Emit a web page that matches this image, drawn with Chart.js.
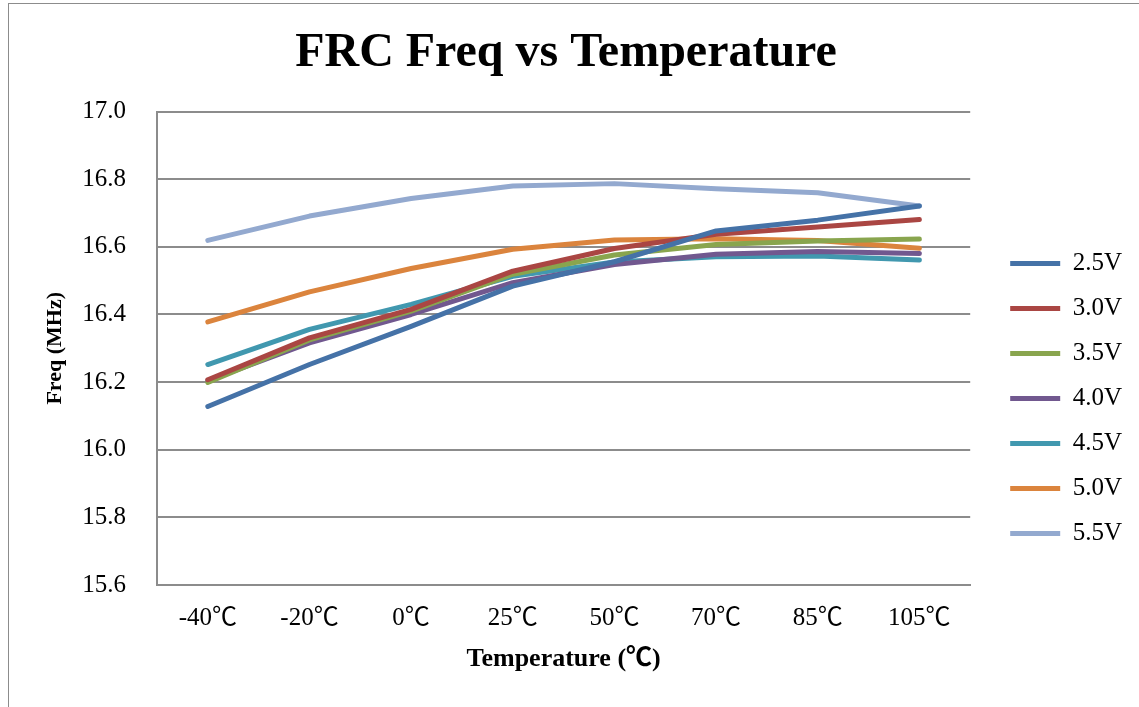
<!DOCTYPE html>
<html>
<head>
<meta charset="utf-8">
<script src="https://cdn.jsdelivr.net/npm/chart.js@4"></script>
<style>
  body { margin: 0; background: #fff; }
  #wrap { position: relative; width: 1139px; height: 707px; }
  #frame { position: absolute; left: 8px; top: 3px; width: 1200px; height: 800px;
           border-left: 1px solid #8c8c8c; border-top: 1px solid #8c8c8c; pointer-events: none; }
</style>
</head>
<body>
<div id="wrap">
  <canvas id="myChart" width="1139" height="707"></canvas>
  <div id="frame"></div>
</div>
<script>
const temps = ['-40℃', '-20℃', '0℃', '25℃', '50℃', '70℃', '85℃', '105℃'];
const seriesNames = ['2.5V', '3.0V', '3.5V', '4.0V', '4.5V', '5.0V', '5.5V'];
const v25 = [16.128, 16.252, 16.365, 16.484, 16.556, 16.647, 16.679, 16.721];
const v30 = [16.207, 16.331, 16.415, 16.528, 16.595, 16.637, 16.659, 16.681];
const v35 = [16.199, 16.325, 16.410, 16.519, 16.576, 16.607, 16.617, 16.623];
const v40 = [16.204, 16.316, 16.400, 16.494, 16.548, 16.578, 16.586, 16.580];
const v45 = [16.252, 16.356, 16.430, 16.513, 16.555, 16.571, 16.573, 16.561];
const v50 = [16.378, 16.467, 16.536, 16.593, 16.620, 16.624, 16.619, 16.596];
const v55 = [16.619, 16.691, 16.743, 16.780, 16.787, 16.772, 16.760, 16.721];
const yTicks = [15.6, 15.8, 16.0, 16.2, 16.4, 16.6, 16.8, 17.0];

const colors = ['#4572a7', '#aa4643', '#89a54e', '#71588f', '#4198af', '#db843d', '#93a9cf'];
const allValues = [v25, v30, v35, v40, v45, v50, v55];

const serif = "'Liberation Serif', 'Times New Roman', 'Noto Sans CJK SC', serif";
const gridColor = '#8c8c8c';

const ctx = document.getElementById('myChart').getContext('2d');
const myChart = new Chart(ctx, {
    type: 'line',
    data: {
        labels: temps,
        datasets: seriesNames.map((name, i) => ({
            label: name,
            data: allValues[i],
            borderColor: colors[i],
            backgroundColor: colors[i],
            borderWidth: 5,
            borderCapStyle: 'round',
            borderJoinStyle: 'round',
            pointRadius: 0,
            tension: 0,
            fill: false
        }))
    },
    options: {
        responsive: false,
        animation: false,
        layout: { padding: { left: 0, right: 7, top: 0, bottom: 0 } },
        plugins: {
            title: {
                display: true,
                text: 'FRC Freq vs Temperature',
                color: '#000',
                font: { family: serif, size: 48, weight: 'bold' },
                padding: { top: 25, bottom: 29 }
            },
            legend: {
                position: 'right',
                title: { display: true, text: ' ', font: { size: 1 }, padding: { top: 89, bottom: 0 } },
                labels: {
                    usePointStyle: true,
                    pointStyle: 'line',
                    pointStyleWidth: 50,
                    padding: 20,
                    color: '#000',
                    font: { family: serif, size: 25 }
                }
            },
            tooltip: { enabled: false }
        },
        scales: {
            x: {
                offset: true,
                grid: { display: false, drawTicks: false },
                border: { display: true, color: gridColor, width: 2 },
                ticks: { color: '#000', font: { family: serif, size: 25 }, padding: 18, maxRotation: 0 },
                title: {
                    display: true,
                    text: 'Temperature (℃)',
                    color: '#000',
                    font: { family: serif, size: 26, weight: 'bold' },
                    padding: { top: 0, bottom: 32 }
                },
                afterFit: s => { s.height = 122; }
            },
            y: {
                min: 15.6,
                max: 17.0,
                afterBuildTicks: s => { s.ticks = yTicks.map(v => ({ value: v })); },
                grid: { color: gridColor, lineWidth: 2, drawTicks: false },
                border: { display: true, color: gridColor, width: 2 },
                ticks: {
                    color: '#000',
                    font: { family: serif, size: 25 },
                    padding: 31,
                    callback: v => Number(v).toFixed(1)
                },
                title: {
                    display: true,
                    text: 'Freq (MHz)',
                    color: '#000',
                    font: { family: serif, size: 22, weight: 'bold' },
                    padding: { top: 42, bottom: 0 }
                },
                afterFit: s => { s.width = 157; }
            },
            yR: {
                position: 'right',
                display: true,
                grid: { display: false, drawTicks: false },
                border: { display: false },
                ticks: { display: false },
                afterFit: s => { s.width = 20; }
            }
        }
    }
});
</script>
</body>
</html>
